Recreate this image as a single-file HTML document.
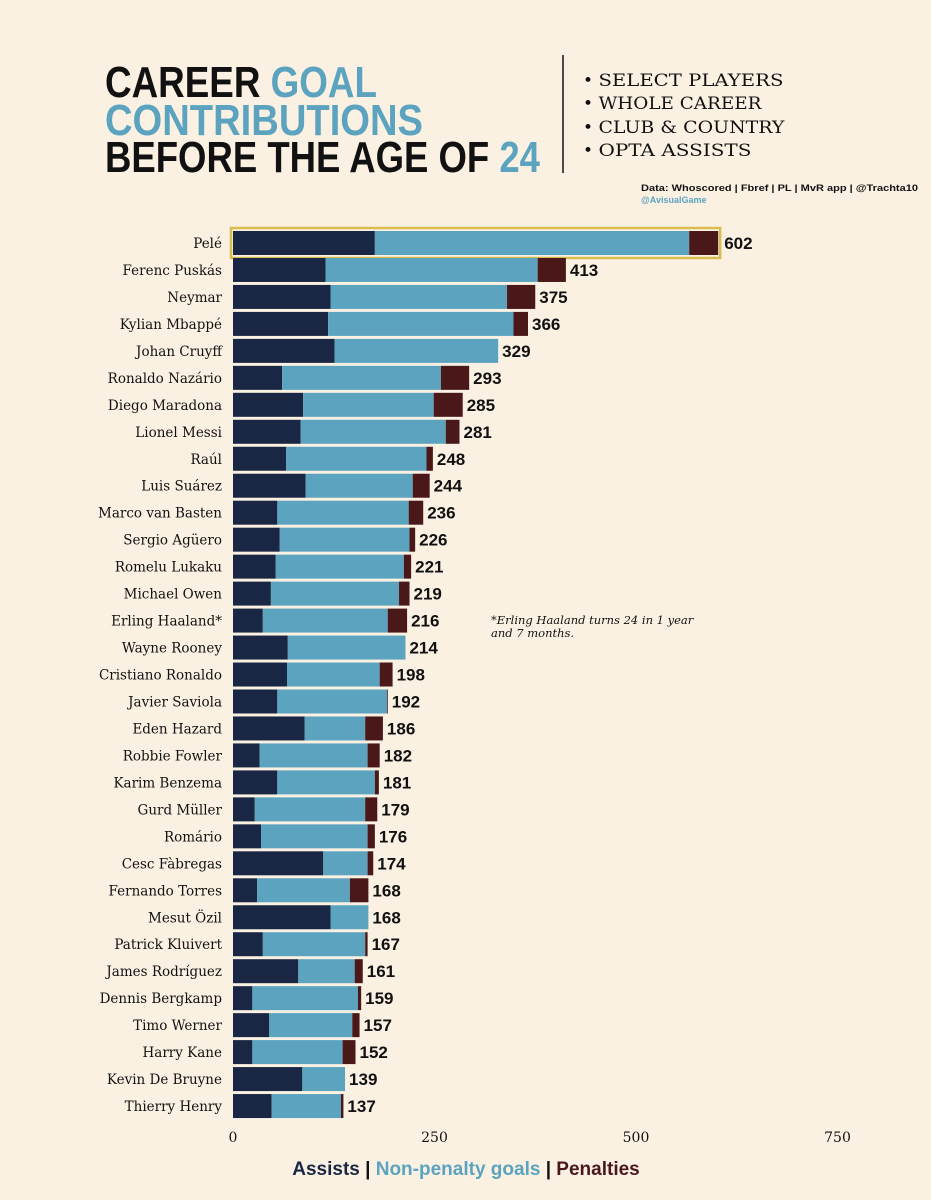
<!DOCTYPE html>
<html><head><meta charset="utf-8"><style>
body{margin:0;background:#fbf1e3;}
svg{display:block}
</style></head><body>
<svg id="chart" width="931" height="1200" viewBox="0 0 931 1200" xmlns="http://www.w3.org/2000/svg">
<rect width="931" height="1200" fill="#fbf1e3"/>
<g font-family="Liberation Sans, sans-serif" font-weight="bold" font-size="44">
<text x="105" y="97" textLength="272" lengthAdjust="spacingAndGlyphs"><tspan fill="#111">CAREER </tspan><tspan fill="#5ba3bf">GOAL</tspan></text>
<text x="105" y="135" fill="#5ba3bf" textLength="318" lengthAdjust="spacingAndGlyphs">CONTRIBUTIONS</text>
<text x="105" y="172" textLength="435" lengthAdjust="spacingAndGlyphs"><tspan fill="#111">BEFORE THE AGE OF </tspan><tspan fill="#5ba3bf">24</tspan></text>
</g>
<line x1="563" y1="55" x2="563" y2="173" stroke="#111" stroke-width="1.5"/>
<g font-family="DejaVu Serif, serif" font-size="17" fill="#111">
<text x="583" y="86">•  <tspan textLength="185" lengthAdjust="spacingAndGlyphs">SELECT PLAYERS</tspan></text>
<text x="583" y="109">•  <tspan textLength="163" lengthAdjust="spacingAndGlyphs">WHOLE CAREER</tspan></text>
<text x="583" y="133">•  <tspan textLength="186" lengthAdjust="spacingAndGlyphs">CLUB &amp; COUNTRY</tspan></text>
<text x="583" y="156">•  <tspan textLength="153" lengthAdjust="spacingAndGlyphs">OPTA ASSISTS</tspan></text>
</g>
<text x="641" y="191" font-family="Liberation Sans, sans-serif" font-weight="bold" font-size="9" fill="#111" textLength="277" lengthAdjust="spacingAndGlyphs">Data: Whoscored | Fbref | PL | MvR app | @Trachta10</text>
<text x="641" y="203" font-family="Liberation Sans, sans-serif" font-weight="bold" font-size="9" fill="#5ba3bf">@AvisualGame</text>
<text x="491" y="624" font-family="DejaVu Serif, serif" font-style="italic" font-size="11.5" fill="#111"><tspan x="491">*Erling Haaland turns 24 in 1 year</tspan><tspan x="491" dy="13">and 7 months.</tspan></text>
<g id="bars"></g>
<g font-family="Liberation Sans, sans-serif" font-weight="bold" font-size="19">
<text x="466" y="1175" text-anchor="middle"><tspan fill="#1a2744">Assists</tspan><tspan fill="#111">  |  </tspan><tspan fill="#5ba3bf">Non-penalty goals</tspan><tspan fill="#111">  |  </tspan><tspan fill="#4a1818">Penalties</tspan></text>
</g>
</svg>
<script>
const players=["Pelé","Ferenc Puskás","Neymar","Kylian Mbappé","Johan Cruyff","Ronaldo Nazário","Diego Maradona","Lionel Messi","Raúl","Luis Suárez","Marco van Basten","Sergio Agüero","Romelu Lukaku","Michael Owen","Erling Haaland*","Wayne Rooney","Cristiano Ronaldo","Javier Saviola","Eden Hazard","Robbie Fowler","Karim Benzema","Gurd Müller","Romário","Cesc Fàbregas","Fernando Torres","Mesut Özil","Patrick Kluivert","James Rodríguez","Dennis Bergkamp","Timo Werner","Harry Kane","Kevin De Bruyne","Thierry Henry"];
const assists=[176,115,121,118,126,61,87,84,66,90,55,58,53,47,37,68,67,55,89,33,55,27,35,112,30,121,37,81,24,45,24,86,48];
const npGoals=[390,263,219,230,203,197,162,180,174,133,163,161,159,159,155,146,115,136,75,134,121,137,132,55,115,47,127,70,131,103,112,53,86];
const penalties=[36,35,35,18,0,35,36,17,8,21,18,7,9,13,24,0,16,1,22,15,5,15,9,7,23,0,3,10,4,9,16,0,3];
const totals=[602,413,375,366,329,293,285,281,248,244,236,226,221,219,216,214,198,192,186,182,181,179,176,174,168,168,167,161,159,157,152,139,137];
const ticks=[0,250,500,750];
const NS="http://www.w3.org/2000/svg";
const x0=233,kx=201.5/250,y0=243,dy=26.97,bh=24;
const xs=v=>x0+v*kx, ys=i=>y0+i*dy;
const g=document.getElementById('bars');
function mk(t,a){const e=document.createElementNS(NS,t);for(const k in a)e.setAttribute(k,a[k]);g.appendChild(e);return e;}
players.forEach((p,i)=>{
  const yc=ys(i);
  if(i===0){const hl=mk('rect',{x:xs(0)-2,y:yc-bh/2-3,width:xs(totals[0])-xs(0)+4,height:bh+6,fill:'none',stroke:'#d9bd4f','stroke-width':2.5});
    
    }
  const a=assists[i],n=npGoals[i],pe=penalties[i];
  const r1=mk('rect',{x:xs(0),y:yc-bh/2,width:xs(a)-xs(0),height:bh,fill:'#1a2744'});
  
  
  const r2=mk('rect',{x:xs(a),y:yc-bh/2,width:xs(a+n)-xs(a),height:bh,fill:'#5ba3bf'});
  
  
  const r3=mk('rect',{x:xs(a+n),y:yc-bh/2,width:xs(a+n+pe)-xs(a+n),height:bh,fill:'#4a1818'});
  
  
  const l=mk('text',{x:222,y:yc+5,'text-anchor':'end','font-family':'DejaVu Serif, serif','font-size':13.5,fill:'#111'});
  l.textContent=p;
  
  
  const v=mk('text',{x:xs(a+n+pe)+(i===0?6:4),y:yc+6,'font-family':'Liberation Sans, sans-serif','font-weight':'bold','font-size':17,fill:'#111'});
  v.textContent=totals[i];
  
  
});
ticks.forEach(t=>{
  const e=mk('text',{x:xs(t),y:1142,'text-anchor':'middle','font-family':'DejaVu Serif, serif','font-size':14,fill:'#111'});
  e.textContent=t;
  
  
});
</script>
</body></html>
